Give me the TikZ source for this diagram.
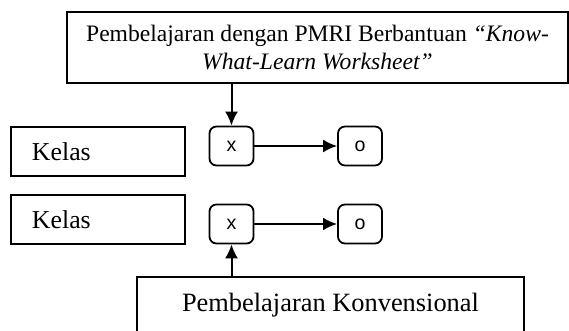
\documentclass[tikz,border=0pt]{standalone}
\usepackage{fontspec}
\setmainfont{Liberation Serif}
\newfontfamily\huruf{Liberation Sans}
\usetikzlibrary{arrows.meta}
\newcommand{\px}{0.5pt}
\tikzstyle{kotak}=[rectangle, line width=1pt, draw=black, fill=white, inner sep=0pt]
\tikzstyle{sel}=[rectangle, rounded corners=3.5pt, line width=0.9pt, draw=black, fill=white, minimum width=44*\px, minimum height=39*\px, inner sep=0pt, font=\huruf\fontsize{9.8}{11}\selectfont]
\newcommand{\fl}[2]{ \draw[->] (#1) -- (#2); }

\begin{document}
\begin{tikzpicture}[x=\px,y=-\px,>={Latex[length=7pt,width=6.5pt]},line width=1pt]

 \useasboundingbox (0,0) rectangle (569,331);

 \node[kotak,minimum width=501*\px,minimum height=71*\px,align=center,font=\fontsize{11.8}{14}\selectfont] (P) at (317.5,47.5) {Pembelajaran dengan PMRI Berbantuan \textit{“Know-}\\\textit{What-Learn Worksheet”}};
 \node[kotak,minimum width=387*\px,minimum height=57*\px,font=\fontsize{13.2}{15}\selectfont] (K) at (330.5,305.5) {Pembelajaran Konvensional};

 \foreach \i/\yk/\ys in {1/151.5/146,2/220/224}%
 {%
     \node[kotak,minimum width=174*\px,minimum height=49*\px,text width=132*\px,inner xsep=21*\px,align=left,font=\fontsize{12.9}{15}\selectfont] (L\i) at (98,\yk) {Kelas};
     \node[sel] (X\i) at (231.5,\ys) {x};
     \node[sel] (O\i) at (360,\ys) {o};
     \fl{X\i}{O\i}
 }

 \fl{P.south -| X1}{X1.north}
 \fl{K.north -| X2}{X2.south}

\end{tikzpicture}
\end{document}
